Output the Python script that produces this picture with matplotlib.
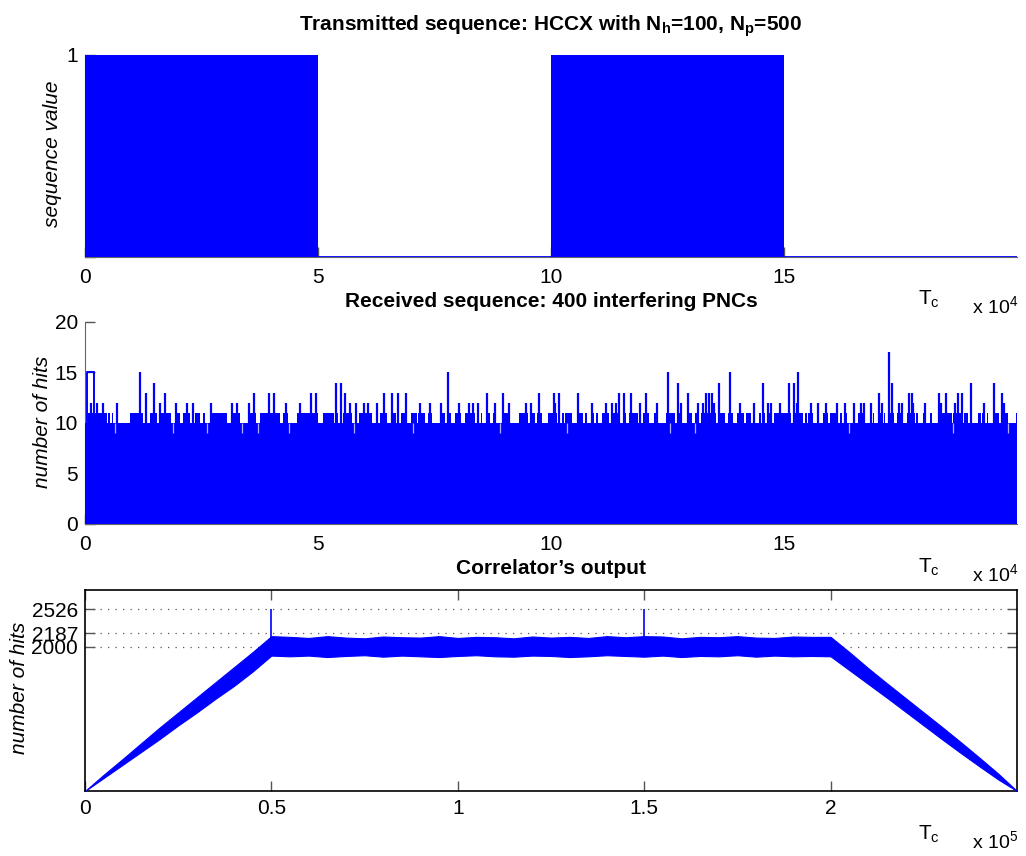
import matplotlib
matplotlib.use("Agg")
import matplotlib.pyplot as plt

plt.rcParams['font.family'] = ['Liberation Sans', 'DejaVu Sans']
plt.rcParams['mathtext.fontset'] = 'custom'
plt.rcParams['mathtext.rm'] = 'Liberation Sans'
plt.rcParams['mathtext.it'] = 'Liberation Sans:italic'
plt.rcParams['mathtext.bf'] = 'Liberation Sans:bold'

BLUE = '#0000ff'

# --- transmitted sequence (chip index in units of 1e4) ---
tx_len = 20.0
tx_on_start = [0.0, 10.0]
tx_on_end = [5.0, 15.0]

# --- received sequence: background level, level-11 runs and taller hits (x in 1e4) ---
rx_base = 10
rx_box = (0.05, 0.19, 15)
rx_11_start = [0.07, 0.50, 0.57, 0.97, 1.39, 1.60, 1.93, 2.11, 2.36, 2.54, 2.70, 3.13, 3.51, 3.75, 4.26, 4.54,
               5.11, 5.37, 5.54, 5.79, 5.89, 6.24, 6.33, 6.56, 6.78, 6.99, 7.15, 7.36, 7.64, 7.78, 7.95, 8.15,
               8.43, 8.50, 8.60, 8.76, 8.94, 9.31, 9.55, 9.69, 9.94, 10.16, 10.24, 10.31, 10.58, 10.73, 10.85,
               10.96, 11.09, 11.29, 11.54, 11.68, 11.91, 11.98, 12.21, 12.47, 12.71, 12.91, 13.09, 13.23, 13.59,
               13.79, 14.00, 14.18, 14.33, 14.47, 14.56, 14.66, 14.79, 15.20, 15.45, 15.52, 15.70, 15.84, 15.99,
               16.20, 16.29, 16.49, 16.58, 16.85, 16.91, 17.01, 17.14, 17.23, 17.42, 17.65, 17.83, 17.99, 18.13,
               18.30, 18.63, 18.87, 18.99, 19.17, 19.26, 19.36, 19.48, 19.65, 19.97]
rx_11_end = [0.47, 0.54, 0.60, 1.25, 1.55, 1.84, 2.04, 2.25, 2.47, 2.57, 3.04, 3.33, 3.68, 4.18, 4.36, 5.01,
             5.35, 5.44, 5.74, 5.83, 6.15, 6.29, 6.49, 6.68, 6.88, 7.12, 7.29, 7.45, 7.72, 7.85, 8.08, 8.37,
             8.45, 8.53, 8.69, 8.83, 9.12, 9.51, 9.66, 9.80, 10.14, 10.19, 10.28, 10.46, 10.69, 10.78, 10.92,
             11.01, 11.25, 11.48, 11.62, 11.87, 11.94, 12.11, 12.30, 12.66, 12.82, 13.02, 13.18, 13.55, 13.73,
             13.90, 14.14, 14.30, 14.38, 14.50, 14.59, 14.73, 15.15, 15.41, 15.49, 15.63, 15.75, 15.95, 16.15,
             16.25, 16.35, 16.53, 16.73, 16.88, 16.94, 17.11, 17.17, 17.37, 17.56, 17.81, 17.87, 18.04, 18.17,
             18.60, 18.85, 18.95, 19.03, 19.23, 19.31, 19.38, 19.61, 19.81, 20.00]
rx_hit_x = [0.14, 0.26, 0.39, 0.68, 1.19, 1.31, 1.48, 1.61, 1.72, 1.95, 2.18, 2.32, 2.71, 3.15, 3.27, 3.53,
            3.62, 3.95, 4.06, 4.31, 4.61, 4.86, 4.96, 5.38, 5.49, 5.59, 5.69, 5.81, 5.98, 6.08, 6.26, 6.41,
            6.59, 6.72, 6.88, 7.20, 7.40, 7.65, 7.80, 8.03, 8.24, 8.33, 8.44, 8.63, 8.80, 8.97, 9.10, 9.46,
            9.57, 9.74, 10.06, 10.09, 10.17, 10.59, 10.89, 11.19, 11.32, 11.39, 11.45, 11.56, 11.72, 11.92,
            12.03, 12.27, 12.52, 12.72, 12.80, 12.93, 13.15, 13.27, 13.33, 13.40, 13.45, 13.50, 13.61, 13.84,
            14.06, 14.35, 14.56, 14.66, 14.73, 14.91, 15.11, 15.21, 15.27, 15.31, 15.58, 15.72, 15.90, 16.13,
            16.32, 16.50, 16.65, 16.71, 16.87, 17.03, 17.10, 17.25, 17.31, 17.47, 17.54, 17.68, 17.74, 17.77,
            18.03, 18.32, 18.38, 18.48, 18.67, 18.73, 18.82, 19.01, 19.29, 19.50, 19.68, 19.73]
rx_hit_h = [12, 12, 12, 12, 15, 13, 14, 12, 13, 12, 12, 12, 12, 12, 12, 12,
            13, 13, 13, 12, 12, 13, 13, 14, 14, 13, 12, 12, 12, 12, 12, 13,
            13, 13, 13, 12, 12, 12, 15, 12, 12, 12, 12, 13, 12, 13, 12, 12,
            12, 13, 13, 12, 13, 13, 12, 12, 12, 12, 13, 13, 13, 12,
            13, 12, 15, 14, 12, 13, 12, 12, 13, 13, 13, 12, 14, 15,
            12, 12, 14, 12, 12, 12, 14, 14, 12, 15, 12, 12, 12, 12,
            12, 12, 12, 12, 12, 13, 12, 17, 14, 12, 12, 13, 13, 12,
            12, 13, 12, 13, 12, 13, 13, 14, 12, 14, 13, 12]
rx_dip_x = [0.64, 1.88, 2.61, 3.38, 3.71, 4.38, 5.77, 7.05, 8.90, 10.35, 12.55, 13.10, 16.40, 18.62, 19.80]

# --- correlator output envelope (x in 1e5) ---
corr_x = [0.00, 0.05, 0.10, 0.15, 0.20, 0.25, 0.30, 0.35, 0.40, 0.45, 0.50,
          0.55, 0.60, 0.65, 0.70, 0.75, 0.80, 0.85, 0.90, 0.95, 1.00, 1.05, 1.10, 1.15, 1.20,
          1.25, 1.30, 1.35, 1.40, 1.45, 1.50, 1.55, 1.60, 1.65, 1.70, 1.75, 1.80, 1.85, 1.90, 1.95,
          2.00, 2.05, 2.10, 2.15, 2.20, 2.25, 2.30, 2.35, 2.40, 2.45, 2.50]
corr_hi = [0, 225, 440, 660, 880, 1090, 1300, 1510, 1720, 1930, 2150,
           2140, 2125, 2150, 2130, 2120, 2145, 2135, 2130, 2150, 2125, 2140, 2135, 2120, 2145,
           2130, 2140, 2125, 2150, 2135, 2150, 2145, 2120, 2140, 2135, 2150, 2130, 2125, 2145, 2140,
           2140, 1930, 1710, 1500, 1295, 1090, 885, 675, 460, 240, 0]
corr_lo = [0, 180, 360, 540, 720, 910, 1090, 1280, 1460, 1660, 1880,
           1870, 1880, 1860, 1875, 1885, 1865, 1880, 1870, 1860, 1875, 1885, 1870, 1865, 1880,
           1875, 1860, 1870, 1885, 1875, 1865, 1880, 1860, 1875, 1870, 1885, 1865, 1880, 1870, 1875,
           1870, 1680, 1490, 1300, 1105, 910, 715, 525, 340, 160, 0]
corr_peak_x = [0.5, 1.5]
corr_peak_y = [2526, 2526]
corr_levels = [2000, 2187, 2526]

W, H = 1026, 856
fig = plt.figure(figsize=(W / 100, H / 100), dpi=100)
ax1 = fig.add_axes([0.0828, 0.6998, 0.9084, 0.236])
ax2 = fig.add_axes([0.0828, 0.3879, 0.9084, 0.236])
ax3 = fig.add_axes([0.0828, 0.0759, 0.9084, 0.2348])

# top panel: transmitted chips
ax1.plot([0, tx_len], [0, 0], color=BLUE, lw=2, zorder=3)
for a, b in zip(tx_on_start, tx_on_end):
    ax1.fill_between([a, b], 0, 1, color=BLUE, lw=0, zorder=3)
ax1.set_xlim(0, tx_len)
ax1.set_ylim(0, 1)
ax1.set_xticks([0, 5, 10, 15])
ax1.set_yticks([0, 1])
ax1.set_yticklabels(['', '1'])
for s in ['top', 'right']:
    ax1.spines[s].set_visible(False)
for s in ['left', 'bottom']:
    ax1.spines[s].set_color('#666666')

# middle panel: received hits
ax2.fill_between([0, tx_len], 0, rx_base, color=BLUE, lw=0, zorder=3)
for a, b in zip(rx_11_start, rx_11_end):
    ax2.fill_between([a, b], rx_base, 11, color=BLUE, lw=0, zorder=3)
ax2.vlines(rx_hit_x, rx_base, rx_hit_h, color=BLUE, lw=1.6, zorder=3)
ax2.plot([rx_box[0], rx_box[0], rx_box[1], rx_box[1]], [rx_base, rx_box[2], rx_box[2], rx_base],
         color=BLUE, lw=1.4, zorder=3)
ax2.vlines(rx_dip_x, 9, rx_base, color='#b0b0ff', lw=0.9, zorder=4)
ax2.set_xlim(0, tx_len)
ax2.set_ylim(0, 20)
ax2.set_xticks([0, 5, 10, 15])
ax2.set_yticks([0, 5, 10, 15, 20])
for s in ['top', 'right']:
    ax2.spines[s].set_visible(False)
for s in ['left', 'bottom']:
    ax2.spines[s].set_color('#666666')

# bottom panel: correlator output
for lv in corr_levels:
    ax3.axhline(lv, color='#555555', lw=0.9, ls=(0, (1, 5)), zorder=1)
ax3.fill_between(corr_x, corr_lo, corr_hi, color=BLUE, lw=0.8, edgecolor=BLUE, zorder=3)
ax3.vlines(corr_peak_x, 2000, corr_peak_y, color=BLUE, lw=1.2, zorder=3)
ax3.set_xlim(0, 2.5)
ax3.set_ylim(0, 2790)
ax3.set_xticks([0, 0.5, 1, 1.5, 2])
ax3.set_xticklabels(['0', '0.5', '1', '1.5', '2'])
ax3.set_yticks(corr_levels)
for s in ax3.spines.values():
    s.set_color('k')
    s.set_linewidth(1.2)

for ax in (ax1, ax2, ax3):
    ax.tick_params(direction='in', length=7, width=1, color='#555555', labelsize=15, pad=8)
    ax.tick_params(axis='y', pad=5)
ax3.tick_params(top=True, right=True)
ax3.tick_params(axis='x', pad=6)

# y labels placed at fixed pixel positions
def px_text(x, y, s, **kw):
    fig.text(x / W, 1 - y / H, s, **kw)

px_text(53, 154, 'sequence value', rotation=90, ha='center', va='center', fontsize=15, style='italic')
px_text(42, 422, 'number of hits', rotation=90, ha='center', va='center', fontsize=15, style='italic')
px_text(20, 688, 'number of hits', rotation=90, ha='center', va='center', fontsize=15, style='italic')

# titles
px_text(551, 31, r'Transmitted sequence: HCCX with N$_\mathbf{h}$=100, N$_\mathbf{p}$=500',
        ha='center', va='baseline', fontsize=15, fontweight='bold')
px_text(551, 307, 'Received sequence: 400 interfering PNCs',
        ha='center', va='baseline', fontsize=15, fontweight='bold')
px_text(551, 574, 'Correlator\u2019s output',
        ha='center', va='baseline', fontsize=15, fontweight='bold')

# axis unit labels at the right end of each panel
for yb, exp in [(305, '4'), (573, '4'), (840, '5')]:
    px_text(918, yb, r'T$_\mathrm{c}$', ha='left', va='baseline', fontsize=15)
    px_text(972, yb + 8, r'x 10$^{%s}$' % exp, ha='left', va='baseline', fontsize=14)

fig.savefig('out.png', dpi=100)
plt.close(fig)
